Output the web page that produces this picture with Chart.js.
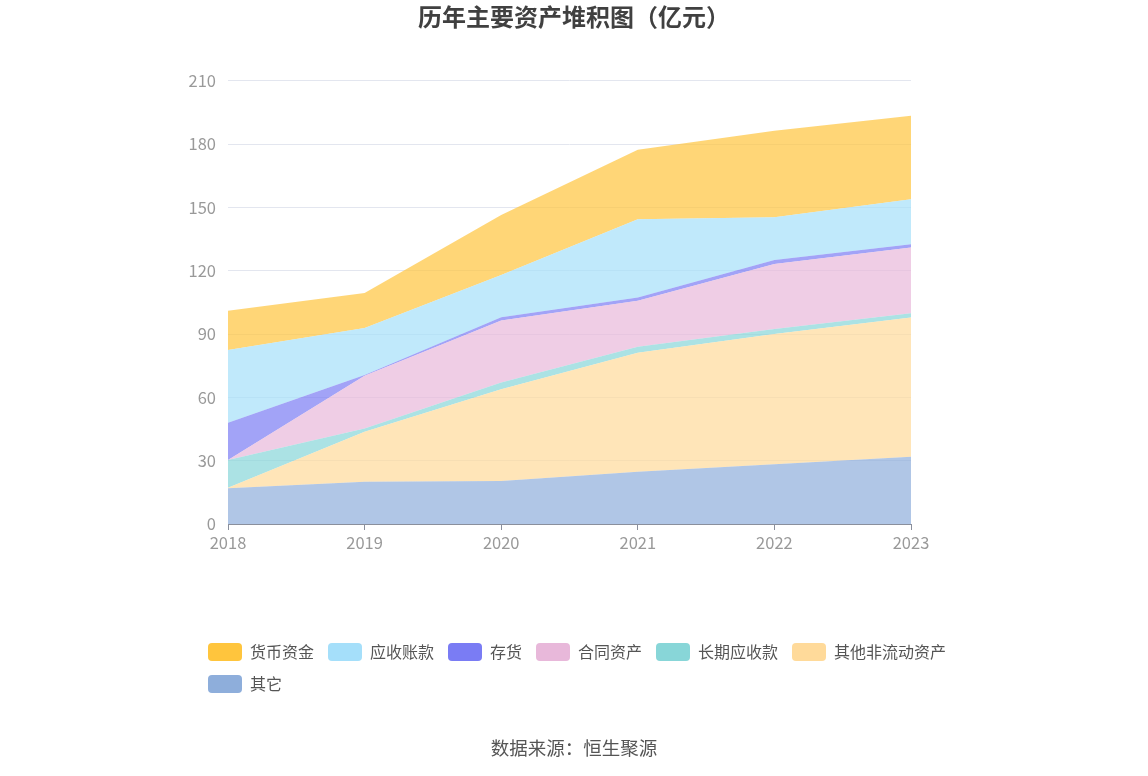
<!DOCTYPE html>
<html>
<head>
<meta charset="utf-8">
<script src="https://cdn.jsdelivr.net/npm/chart.js@4.4.0/dist/chart.umd.min.js"></script>
<style>
  html, body { margin: 0; padding: 0; background: #fff; }
  #wrap { position: relative; width: 1148px; height: 776px; }
  #source {
    position: absolute; left: 0; top: 734px; width: 1148px;
    text-align: center; color: #555;
    font: 18.5px "Noto Sans CJK SC", sans-serif;
  }
</style>
</head>
<body>
<div id="wrap">
  <canvas id="assetChart" width="1148" height="776"></canvas>
  <div id="source">数据来源：恒生聚源</div>
</div>
<script>
// 单位：亿元，自下而上堆积
const years = ['2018', '2019', '2020', '2021', '2022', '2023'];
const otherAssets      = [16.9, 20.0, 20.4, 24.8, 28.3, 31.9]; // 其它
const otherNonCurrent  = [0.3, 23.7, 43.4, 56.4, 61.7, 65.9];  // 其他非流动资产
const longReceivables  = [13.1, 1.6, 3.2, 2.8, 2.4, 2.0];      // 长期应收款
const contractAssets   = [0.0, 24.9, 29.4, 21.8, 30.8, 31.2];  // 合同资产
const inventory        = [17.7, 0.4, 1.6, 1.5, 1.9, 1.5];      // 存货
const receivables      = [34.5, 22.3, 20.0, 37.1, 20.3, 21.4]; // 应收账款
const cash             = [18.5, 16.6, 28.4, 32.9, 40.9, 39.5]; // 货币资金
const yTicks = { min: 0, max: 210, step: 30 };

const series = [
  { name: '其它', data: otherAssets, color: '142, 174, 219' },
  { name: '其他非流动资产', data: otherNonCurrent, color: '255, 218, 154' },
  { name: '长期应收款', data: longReceivables, color: '136, 214, 216' },
  { name: '合同资产', data: contractAssets, color: '232, 184, 218' },
  { name: '存货', data: inventory, color: '122, 124, 244' },
  { name: '应收账款', data: receivables, color: '165, 223, 250' },
  { name: '货币资金', data: cash, color: '255, 197, 61' }
];

const font = '"Noto Sans CJK SC", sans-serif';

// legend starts a bit right of the left padding, like the original
const shiftLegend = {
  id: 'shiftLegend',
  afterLayout(chart) {
    chart.legend.left += 14;
    chart.legend.right += 14;
  }
};

new Chart(document.getElementById('assetChart'), {
  type: 'line',
  data: {
    labels: years,
    datasets: series.map((s, i) => ({
      label: s.name,
      data: s.data,
      fill: i === 0 ? 'origin' : '-1',
      backgroundColor: 'rgba(' + s.color + ', 0.7)',
      borderColor: 'rgb(' + s.color + ')',
      borderWidth: 0,
      pointRadius: 0,
      pointHoverRadius: 0,
      tension: 0
    }))
  },
  plugins: [shiftLegend],
  options: {
    responsive: false,
    animation: false,
    layout: { padding: { left: 180, right: 180, top: 0, bottom: 73 } },
    scales: {
      x: {
        offset: false,
        grid: { drawOnChartArea: false, color: '#8A8F9C', tickLength: 6 },
        border: { color: '#8A8F9C' },
        ticks: { color: '#999', font: { family: font, size: 16.5 }, padding: 3, maxRotation: 0 },
        afterFit: scale => { scale.height = 105; }
      },
      y: {
        stacked: true,
        min: yTicks.min,
        max: yTicks.max,
        grid: { color: '#E3E6EF', drawTicks: false },
        border: { display: false },
        ticks: { stepSize: yTicks.step, color: '#999', font: { family: font, size: 16.5 }, padding: 12 },
        afterFit: scale => { scale.width = 48; }
      },
      yRight: {
        position: 'right',
        grid: { display: false },
        border: { display: false },
        ticks: { display: false },
        afterFit: scale => { scale.width = 57; }
      }
    },
    plugins: {
      title: {
        display: true,
        text: '历年主要资产堆积图（亿元）',
        color: '#404040',
        font: { family: font, size: 24, weight: 'bold' },
        padding: { top: 2, bottom: 50 }
      },
      legend: {
        position: 'bottom',
        align: 'start',
        reverse: true,
        labels: {
          boxWidth: 34,
          boxHeight: 18,
          padding: 14,
          useBorderRadius: true,
          borderRadius: 4,
          color: '#555',
          font: { family: font, size: 16 },
          generateLabels: chart => {
            const items = Chart.defaults.plugins.legend.labels.generateLabels(chart);
            items.forEach(item => {
              const ds = chart.data.datasets[item.datasetIndex];
              item.fillStyle = ds.borderColor;
              item.strokeStyle = ds.borderColor;
              item.lineWidth = 0;
            });
            return items;
          }
        }
      },
      tooltip: { enabled: false }
    }
  }
});
</script>
</body>
</html>
